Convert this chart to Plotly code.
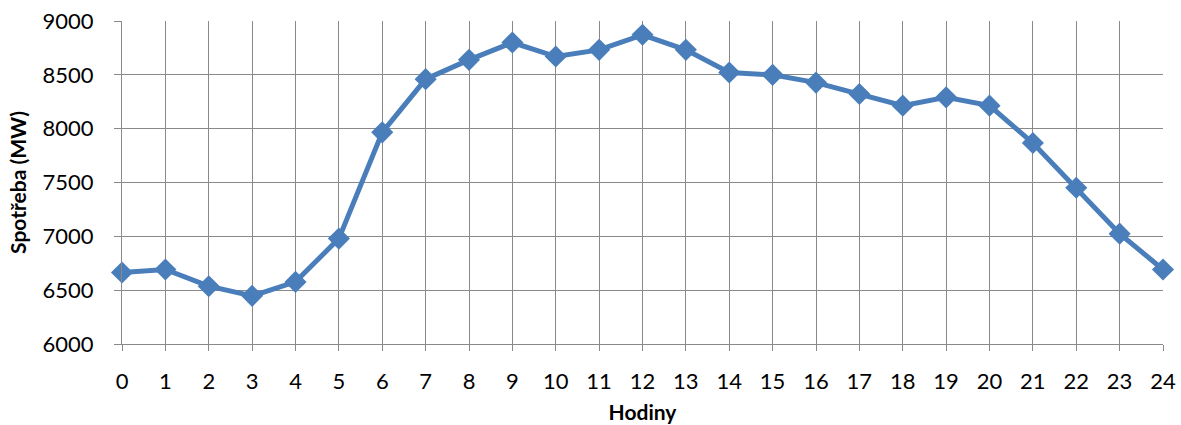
import plotly.graph_objects as go

hours = list(range(0, 25))
consumption = [6664, 6692, 6537, 6447, 6577, 6979, 7966, 8460, 8639, 8800,
               8670, 8732, 8872, 8732, 8521, 8500, 8428, 8322, 8214, 8291,
               8214, 7867, 7451, 7025, 6692]
y_ticks = [6000, 6500, 7000, 7500, 8000, 8500, 9000]

color = "#4A7EBB"
grid = "#898989"
font = "Lato, Carlito, Calibri, sans-serif"

fig = go.Figure(go.Scatter(
    x=hours, y=consumption, mode="lines+markers",
    line=dict(color=color, width=5),
    marker=dict(symbol="diamond", size=17, color=color),
    cliponaxis=False,
))

fig.update_layout(
    width=1181, height=425,
    margin=dict(l=122, r=18, t=21, b=81),
    paper_bgcolor="white", plot_bgcolor="white",
    showlegend=False,
    font=dict(family=font, color="#000000", size=22),
)
fig.update_xaxes(
    range=[0, 24], tickmode="array", tickvals=hours, ticktext=[str(h) for h in hours],
    showgrid=True, gridcolor=grid, gridwidth=1.3,
    showline=True, linecolor=grid, linewidth=1.3,
    ticks="outside", ticklen=6, tickcolor=grid, tickwidth=1.3,
    tickfont=dict(size=22), ticklabelstandoff=11,
    zeroline=False, automargin=False,
    title=dict(text="<b>Hodiny</b>", font=dict(size=21), standoff=12),
)
fig.update_yaxes(
    range=[6000, 9000], tickmode="array", tickvals=y_ticks,
    showgrid=True, gridcolor=grid, gridwidth=1.3,
    showline=True, linecolor=grid, linewidth=1.3,
    ticks="outside", ticklen=7, tickcolor=grid, tickwidth=1.3,
    tickfont=dict(size=22), ticklabelstandoff=16,
    zeroline=False, automargin=False,
    title=dict(text="<b>Spotřeba (MW)</b>", font=dict(size=21), standoff=10),
)

fig.write_html("out.html", config={"displayModeBar": False},
               post_script="document.body.style.margin='0';")
